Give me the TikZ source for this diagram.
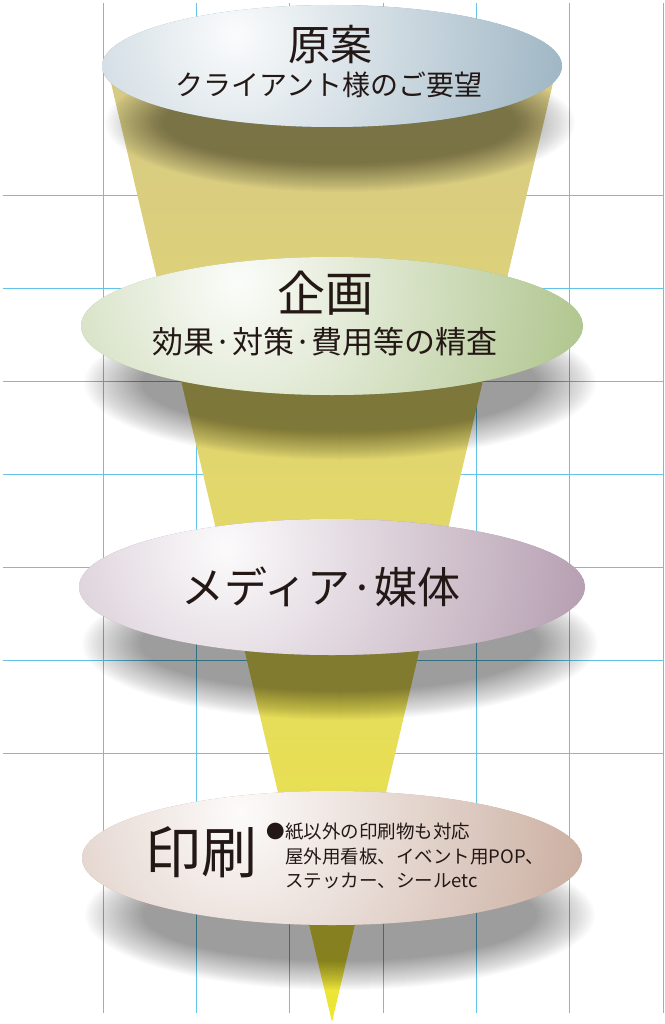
\documentclass[tikz,border=0pt]{standalone}
\usepackage{fontspec}
\newfontfamily\jpfont{Noto Sans CJK JP}
\definecolor{gridblue}{RGB}{98,194,232}
\definecolor{textbrown}{RGB}{35,24,21}
\definecolor{ao}{RGB}{140,168,185}
\definecolor{midori}{RGB}{166,190,128}
\definecolor{murasaki}{RGB}{175,150,170}
\definecolor{chairo}{RGB}{196,164,148}
\definecolor{funa}{RGB}{238,232,0}
\definecolor{funb}{RGB}{238,230,50}
\definecolor{func}{RGB}{232,224,80}
\definecolor{fund}{RGB}{224,212,115}
\definecolor{fune}{RGB}{211,198,140}
\definecolor{funf}{RGB}{210,196,143}
\pgfdeclareverticalshading{trichter}{100bp}{
	color(0bp)=(funa); color(25bp)=(funb); color(35bp)=(func);
	color(58bp)=(fund); color(80bp)=(fune); color(100bp)=(funf)}
\tikzset{
	gridline/.style={gridblue,line width=0.9pt},
	shadowfill/.style={black,opacity=0.015},
	lbl/.style={textbrown,inner sep=0pt}
}

\begin{document}
\begin{tikzpicture}[x=1pt,y=-1pt]
	\useasboundingbox (0,0) rectangle (664,1024);
	
	%Raster
	\foreach \i in {0,...,6}
	\draw[gridline] ({103+93.33*\i},3) -- ({103+93.33*\i},1013);
	\foreach \i in {0,...,6}
	\draw[gridline] (3,{195+93*\i}) -- (664,{195+93*\i});
	
	%Trichter
	\shade[shading=trichter] (107,66) -- (557,66) -- (332,1022) -- cycle;
	
	%Schatten
	\foreach \cy/\rx/\ry in {66/230/61,326/251/69,587/253/68,858/250/67}
	\foreach \k in {0,...,29}
	\fill[shadowfill] (340,\cy+57) ellipse ({\rx+5-2*\k} and {\ry+8-\k});
	
	%Ellipsen
	\foreach \cy/\rx/\ry/\hx/\hy/\col in {66/230/61/235/35/ao,326/251/69/238/283/midori,587/253/68/225/548/murasaki,858/250/67/240/812/chairo}
	{
		\begin{scope}
			\clip (332,\cy) ellipse ({\rx} and {\ry});
			\fill[\col] (332,\cy) ellipse ({\rx} and {\ry});
			\shade[inner color=white!96!\col,outer color=\col] (\hx,\hy) circle (400);
		\end{scope}
	}
	
	%Texte
	\node[lbl,font=\jpfont\fontsize{42}{46}\selectfont] (gen) at (330,45) {原案};
	\node[lbl,font=\jpfont\fontsize{28}{32}\selectfont] (genu) at (329,85) {クライアント様のご要望};
	\node[lbl,font=\jpfont\fontsize{48}{52}\selectfont] (kik) at (325,293) {企画};
	\node[lbl,font=\jpfont\fontsize{31}{35}\selectfont] (kiku) at (325,342) {効果·対策·費用等の精査};
	\node[lbl,font=\jpfont\fontsize{43}{47}\selectfont] (med) at (321,587) {メディア·媒体};
	\node[lbl,font=\jpfont\fontsize{56}{60}\selectfont] (ins) at (201,852) {印刷};
	\node[lbl,font=\jpfont\fontsize{18.5}{24.5}\selectfont,align=left,anchor=west] (insu) at (285,856) {\llap{●}紙以外の印刷物も対応\\屋外用看板、イベント用POP、\\ステッカー、シールetc};
	
\end{tikzpicture}
\end{document}
